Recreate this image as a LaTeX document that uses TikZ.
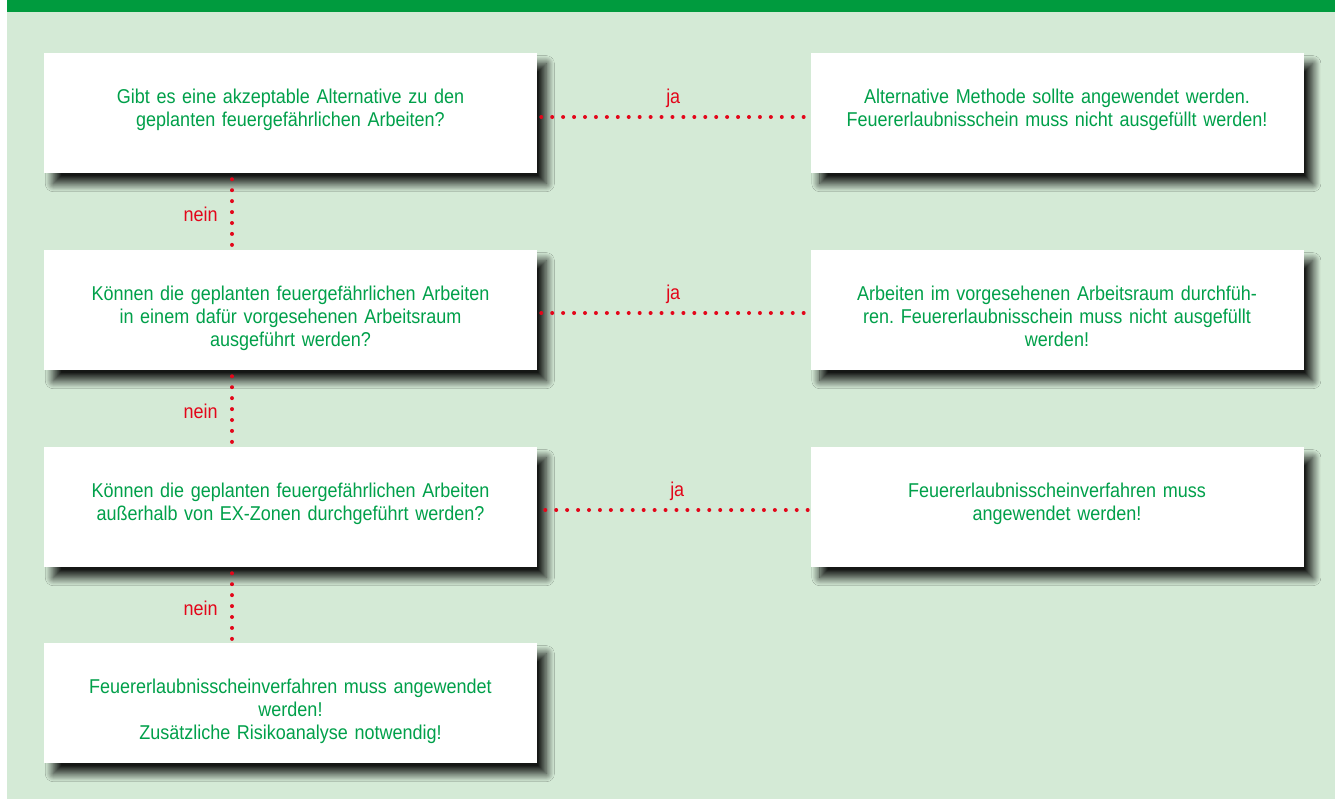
\documentclass[tikz,border=0pt]{standalone}
\usepackage{fontspec}
\setmainfont{Liberation Sans}[FakeStretch=0.9]
\usepackage{tikz}
\usepackage{xcolor}
\usetikzlibrary{shadows.blur}
\frenchspacing

\definecolor{balkgruen}{HTML}{009B3E}
\definecolor{hintergrund}{HTML}{D4EAD6}
\definecolor{textgruen}{HTML}{00A04A}
\definecolor{linienrot}{HTML}{E3061A}

\begin{document}
\begin{tikzpicture}[x=0.75pt,y=-0.75pt,
    kasten/.style={fill=white, inner sep=0pt, text width=369.75pt, align=center,
      text height=38pt, text depth=52pt, text=textgruen,
      font=\fontsize{15}{17.25}\selectfont,
      blur shadow={shadow xshift=7pt, shadow yshift=-8pt, shadow blur radius=6pt,
        shadow opacity=90, shadow blur steps=20, shadow blur extra rounding=0pt}},
    punkte/.style={linienrot, line width=3pt, line cap=round, dash pattern=on 0pt off 8.2pt},
    antwort/.style={text=linienrot, font=\fontsize{15}{17}\selectfont}]
        % Hintergrund
        \useasboundingbox (0,0) rectangle (1335,799);
        \fill[white] (0,0) rectangle (1335,799);
        \fill[hintergrund] (7,0) rectangle (1335,799);
        \fill[balkgruen] (7,0) rectangle (1335,12);
        % Fragen (links)
        \node[kasten] (frage1) at (290.5,113) {Gibt es eine akzeptable Alternative zu den\\geplanten feuergefährlichen Arbeiten?};
        \node[kasten] (frage2) at (290.5,310) {Können die geplanten feuergefährlichen Arbeiten\\in einem dafür vorgesehenen Arbeitsraum\\ausgeführt werden?};
        \node[kasten] (frage3) at (290.5,507) {Können die geplanten feuergefährlichen Arbeiten\\außerhalb von EX-Zonen durchgeführt werden?};
        \node[kasten] (ende) at (290.5,703) {Feuererlaubnisscheinverfahren muss angewendet\\werden!\\Zusätzliche Risikoanalyse notwendig!};
        % Ergebnisse (rechts)
        \node[kasten] (ja1) at (1057,113) {Alternative Methode sollte angewendet werden.\\Feuererlaubnisschein muss nicht ausgefüllt werden!};
        \node[kasten] (ja2) at (1057,310) {Arbeiten im vorgesehenen Arbeitsraum durchfüh-\\ren. Feuererlaubnisschein muss nicht ausgefüllt\\werden!};
        \node[kasten] (ja3) at (1057,507) {Feuererlaubnisscheinverfahren muss\\angewendet werden!};
        % ja-Verbindungen
        \draw[punkte] ([shift={(4,4)}]frage1.east) -- ([shift={(-5,4)}]ja1.west)
          node[midway, above=2pt, antwort] (jatext1) {ja};
        \draw[punkte] ([shift={(4,3)}]frage2.east) -- ([shift={(-5,3)}]ja2.west)
          node[midway, above=2pt, antwort] (jatext2) {ja};
        \draw[punkte] ([shift={(8,3)}]frage3.east) -- ([shift={(-1,3)}]ja3.west)
          node[midway, above=2pt, antwort] (jatext3) {ja};
        % nein-Verbindungen
        \draw[punkte] ([shift={(-58.5,6)}]frage1.south) -- ([shift={(-58.5,0)}]frage2.north)
          node[midway, left=6pt, antwort] (neintext1) {nein};
        \draw[punkte] ([shift={(-58.5,6)}]frage2.south) -- ([shift={(-58.5,0)}]frage3.north)
          node[midway, left=6pt, antwort] (neintext2) {nein};
        \draw[punkte] ([shift={(-58.5,6)}]frage3.south) -- ([shift={(-58.5,0)}]ende.north)
          node[midway, left=6pt, antwort] (neintext3) {nein};
    \end{tikzpicture}
\end{document}
